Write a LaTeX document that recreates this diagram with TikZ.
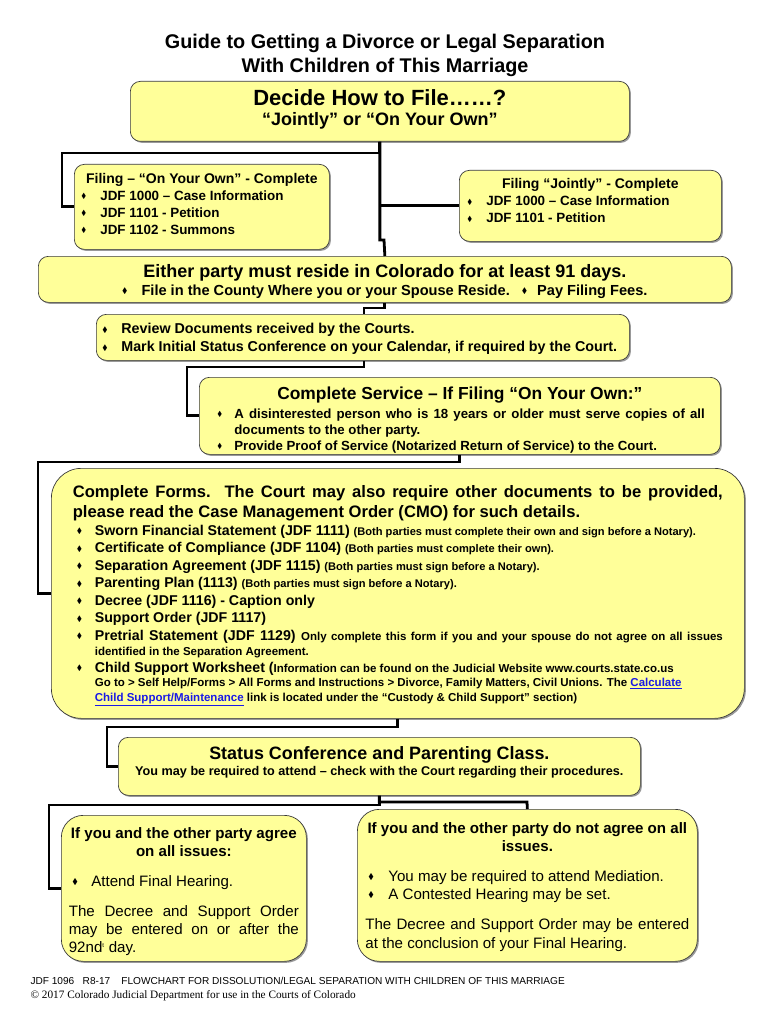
\documentclass[tikz,border=0pt]{standalone}
\usepackage{amssymb}
\usepackage{fontspec}
\setmainfont{Liberation Sans}
\newfontfamily\timesfont{Liberation Serif}
\usetikzlibrary{shadows}

\definecolor{boxyellow}{HTML}{FFFF99}
\definecolor{boxline}{HTML}{3A3A3A}
\definecolor{linkblue}{HTML}{1A1AE6}

\newcommand\fs[2]{\fontsize{#1}{#2}\selectfont}
\newcommand\bul{\raisebox{0.12em}{\scalebox{0.55}{$\blacklozenge$}}}
% bullet item: lead before bullet, hanging indent, text
\newcommand\pitem[3]{\par\noindent\hangindent=#2\hangafter=1\makebox[#2][l]{\hspace*{#1}\bul}#3\par}
\newcommand\bitem[1]{\pitem{0pt}{19pt}{#1}}
\newcommand\sm{\fs{11.1}{15}}
\newcommand\smm{\fs{11.5}{15}}
\newcommand\weblink[1]{\textcolor{linkblue}{\underline{#1}}}
% extra space under the text (positive lifts it, negative lowers it)
\newcommand\tail[1]{\par\vspace{#1}\kern0pt}

\tikzset{
  stepbox/.style={draw=boxline, fill=boxyellow, line width=0.7pt, rounded corners=10pt,
    drop shadow={opacity=1, fill=black!40, shadow xshift=1.5pt, shadow yshift=-1.5pt},
    anchor=north west, inner ysep=0pt, align=justify, font=\bfseries,
    execute at begin node={\setlength{\parindent}{0pt}}},
  link/.style={line width=2.8pt, black}
}

\begin{document}
\begin{tikzpicture}[x=1pt,y=-1pt]
\fill[white] (0,0) rectangle (770,1024);
\useasboundingbox (0,0) rectangle (770,1024);

% heading
\node[align=center, font=\bfseries\fs{19.8}{24}] (title) at (385,55)
  {Guide to Getting a Divorce or Legal Separation\\With Children of This Marriage};

% boxes
\node[stepbox, minimum width=499, minimum height=60, inner xsep=10, text width=479] (decide) at (130,81)
  {{\centering\fs{22}{22}Decide How to File……?\par\fs{18}{19.6}“Jointly” or “On Your Own”\par}\tail{4pt}};

\node[stepbox, minimum width=255, minimum height=85, inner xsep=7, text width=241] (own) at (74,164)
  {\fs{13.4}{17}{\centering\fs{14}{17}Filing – “On Your Own” - Complete\par}
   \bitem{JDF 1000 – Case Information}\bitem{JDF 1101 - Petition}\bitem{JDF 1102 - Summons}\tail{6pt}};

\node[stepbox, minimum width=262, minimum height=71, inner xsep=8, text width=246] (jointly) at (459,170)
  {\fs{13.4}{17}{\centering\fs{14}{17}Filing “Jointly” - Complete\par}
   \bitem{JDF 1000 – Case Information}\bitem{JDF 1101 - Petition}\tail{10pt}};

\node[stepbox, minimum width=693, minimum height=46, inner xsep=10, text width=673] (either) at (38,256)
  {{\centering\fs{18}{18}Either party must reside in Colorado for at least 91 days.\par
   \fs{14.6}{17.8}\bul\hspace{14pt}File in the County Where you or your Spouse Reside.\hspace{12pt}\bul\hspace{10pt}Pay Filing Fees.\par}\tail{-4pt}};

\node[stepbox, minimum width=533, minimum height=46, inner xsep=3, text width=527] (review) at (96,314)
  {\fs{14.3}{18}\pitem{3pt}{22pt}{Review Documents received by the Courts.}
   \pitem{3pt}{22pt}{Mark Initial Status Conference on your Calendar, if required by the Court.}\tail{4pt}};

\node[stepbox, minimum width=521, minimum height=77, inner xsep=15.5, text width=490] (service) at (199,377)
  {{\centering\fs{17.4}{18.5}Complete Service – If Filing “On Your Own:”\par}\vspace{2.5pt}
   \fs{13.25}{16}\pitem{2.5pt}{19.5pt}{A disinterested person who is 18 years or older must serve copies of all\linebreak documents to the other party.}
   \pitem{2.5pt}{19.5pt}{Provide Proof of Service (Notarized Return of Service) to the Court.}\tail{-8pt}};

\node[stepbox, rounded corners=30pt, minimum width=693, minimum height=250, inner xsep=21.5, text width=650] (forms) at (51,468)
  {\fs{16.6}{20}Complete Forms.\ \ The Court may also require other documents to be provided,\linebreak
   please read the Case Management Order (CMO) for such details.\par
   \fs{14.2}{17.5}
   \pitem{4pt}{22pt}{Sworn Financial Statement (JDF 1111) {\sm(Both parties must complete their own and sign before a Notary).}}
   \pitem{4pt}{22pt}{Certificate of Compliance (JDF 1104) {\sm(Both parties must complete their own).}}
   \pitem{4pt}{22pt}{Separation Agreement (JDF 1115) {\sm(Both parties must sign before a Notary).}}
   \pitem{4pt}{22pt}{Parenting Plan (1113) {\sm(Both parties must sign before a Notary).}}
   \pitem{4pt}{22pt}{Decree (JDF 1116) - Caption only}
   \pitem{4pt}{22pt}{Support Order (JDF 1117)}
   \vspace{2.5pt}{\fs{14.2}{15}\pitem{4pt}{22pt}{Pretrial Statement (JDF 1129) {\smm Only complete this form if you and your spouse do not agree on all issues\linebreak
     identified in the Separation Agreement.}}}
   \vspace{2.5pt}{\fs{14.2}{14.5}\pitem{4pt}{22pt}{Child Support Worksheet ({\smm Information can be found on the Judicial Website www.courts.state.co.us\newline
     Go to > Self Help/Forms > All Forms and Instructions > Divorce, Family Matters, Civil Unions. The \weblink{Calculate}\newline
     \weblink{Child Support/Maintenance} link is located under the “Custody \& Child Support” section)}}}\tail{-5pt}};

\node[stepbox, minimum width=522, minimum height=58, inner xsep=10, text width=502] (status) at (118,737)
  {{\centering\fs{17.9}{20}Status Conference and Parenting Class.\par
   \fs{12.65}{16}You may be required to attend – check with the Court regarding their procedures.\par}\tail{8pt}};

\node[stepbox, rounded corners=22pt, minimum width=245, minimum height=146, inner xsep=7.5, text width=230] (agree) at (61,815)
  {{\centering\fs{15.1}{18}If you and the other party agree\par on all issues:\par}
   \vspace{12pt}\mdseries\fs{15.1}{18}\pitem{3.5pt}{22.5pt}{Attend Final Hearing.}
   \vspace{12pt}The Decree and Support Order\linebreak may be entered on or after the\linebreak 92nd\textsuperscript{\fs{6}{6}t} day.\tail{-6pt}};

\node[stepbox, rounded corners=22pt, minimum width=340, minimum height=152, inner xsep=8, text width=324] (disagree) at (357,809)
  {{\centering\fs{15.1}{18}If you and the other party do not agree on all\par issues.\par}
   \vspace{12pt}\mdseries\fs{15.1}{18}\pitem{3pt}{23pt}{You may be required to attend Mediation.}
   \pitem{3pt}{23pt}{A Contested Hearing may be set.}
   \vspace{11pt}{\fs{15.1}{19}The Decree and Support Order may be entered\linebreak at the conclusion of your Final Hearing.\par}\tail{-4pt}};

% connectors
\coordinate (ownturn) at (62,153);
\coordinate (trunkjog) at (384,240);
\draw[link] (decide.south) |- (ownturn) |- (own.west);
\draw[link] (decide.south) |- (trunkjog) -- (either.north);
\draw[link] (decide.south |- jointly.west) -- (jointly.west);

\coordinate (reviewjog) at (364,308);
\draw[link] (either.south) |- (reviewjog) -- (reviewjog |- review.north);
\coordinate (serviceturn) at (187,367);
\draw[link] (reviewjog |- review.south) |- (serviceturn) |- (service.west);
\coordinate (formsturn) at (38,462);
\draw[link] (service.south) |- (formsturn) |- (forms.west);
\coordinate (statusturn) at (107,727);
\draw[link] (forms.south) |- (statusturn) |- (status.west);
\coordinate (agreeturn) at (49,805);
\coordinate (disagreeturn) at (527,802);
\draw[link] (status.south) |- (agreeturn) |- (agree.west);
\draw[link] (status.south) |- (disagreeturn) -- (disagree.north);

% footer
\node[anchor=base west, font=\fs{10.1}{12}] (formcode) at (27,984.5)
  {JDF 1096\ \ \ R8-17\ \ \ \ FLOWCHART FOR DISSOLUTION/LEGAL SEPARATION WITH CHILDREN OF THIS MARRIAGE};
\node[anchor=base west, font=\timesfont\fs{11.3}{13}] (copyright) at (27,998.5)
  {© 2017 Colorado Judicial Department for use in the Courts of Colorado};
\end{tikzpicture}
\end{document}
